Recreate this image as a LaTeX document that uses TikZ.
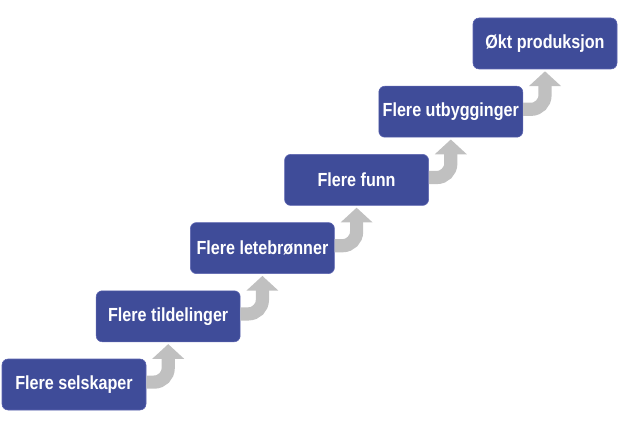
\documentclass[tikz,border=0pt]{standalone}
\usepackage{fontspec}
\newfontfamily\stepfont[FakeStretch=0.85]{Liberation Sans}
\usetikzlibrary{arrows.meta}
\definecolor{stepblue}{RGB}{63,76,153}
\definecolor{stepedge}{RGB}{92,100,176}
\definecolor{stairgray}{RGB}{192,192,192}
\begin{document}
\begin{tikzpicture}[
 stepbox/.style={draw=stepedge,fill=stepblue,rounded corners=0.15cm,minimum width=3.6cm,minimum height=1.275cm,inner sep=0pt,text=white,font=\stepfont\bfseries\fontsize{13.5}{16}\selectfont},
 stair/.style={draw=stairgray,line width=0.33cm,rounded corners=0.35cm,-{Triangle[width=0.78cm,length=0.37cm]}}]
 \useasboundingbox (0,0) rectangle (15.5,10.7);
 \node[stepbox] (s1) at (1.85,1.0875) {Flere selskaper};
 \node[stepbox] (s2) at (4.205,2.7925) {Flere tildelinger};
 \node[stepbox] (s3) at (6.56,4.4975) {Flere letebrønner};
 \node[stepbox] (s4) at (8.915,6.2025) {Flere funn};
 \node[stepbox] (s5) at (11.27,7.9075) {Flere utbygginger};
 \node[stepbox] (s6) at (13.625,9.6125) {Økt produksjon};
 \draw[stair] ([yshift=0.06cm]s1.east) -| ([yshift=-0.05cm]s2.south);
 \draw[stair] ([yshift=0.06cm]s2.east) -| ([yshift=-0.05cm]s3.south);
 \draw[stair] ([yshift=0.06cm]s3.east) -| ([yshift=-0.05cm]s4.south);
 \draw[stair] ([yshift=0.06cm]s4.east) -| ([yshift=-0.05cm]s5.south);
 \draw[stair] ([yshift=0.06cm]s5.east) -| ([yshift=-0.05cm]s6.south);
\end{tikzpicture}
\end{document}
